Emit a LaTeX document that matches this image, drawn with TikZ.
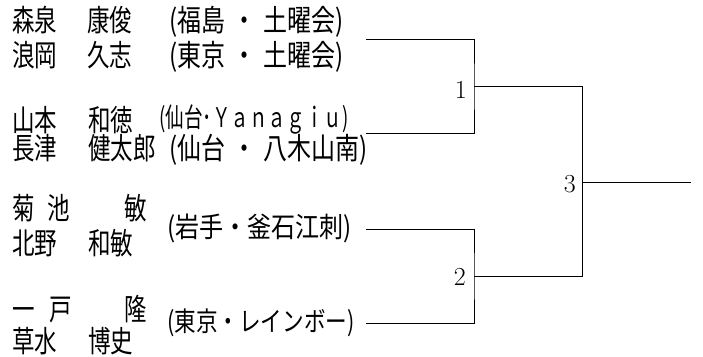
\documentclass[tikz,border=0pt]{standalone}
\usepackage{fontspec}
\newfontfamily\jpname[FakeStretch=0.75]{Noto Sans CJK JP}
\newfontfamily\jpaff[FakeStretch=0.8]{Noto Sans CJK JP}
\newfontfamily\jpnarrow[FakeStretch=0.69]{Noto Sans CJK JP}
\newfontfamily\jpwide[FakeStretch=0.86]{Noto Sans CJK JP}
\newfontfamily\jpkata[FakeStretch=0.8]{Noto Sans CJK JP}
\begin{document}
\begin{tikzpicture}[x=1pt,y=-1pt,
  txtL/.style={inner sep=0pt, anchor=west, text height=26.4pt, text depth=3.6pt},
  txtM/.style={inner sep=0pt, anchor=west, text height=24.6pt, text depth=3.4pt},
  txtS/.style={inner sep=0pt, anchor=west, text height=23.8pt, text depth=3.2pt},
  pname/.style={txtL, font=\fontsize{30}{30}\jpname},
  aff/.style={txtL, font=\fontsize{30}{30}\jpaff},
  affnarrow/.style={txtS, font=\fontsize{27}{27}\jpnarrow},
  affwide/.style={txtM, font=\fontsize{28}{28}\jpwide},
  affkata/.style={txtS, font=\fontsize{27}{27}\jpkata},
  num/.style={inner sep=0pt, anchor=base east, font=\fontsize{26}{26}\selectfont},
  bracket/.style={line width=0.9pt}
]
\useasboundingbox (0,0) rectangle (703,356);
% row 1
\node[pname] (s1) at (12,20) {森泉};
\node[pname] (g1) at (87,20) {康俊};
\node[aff]  (a1) at (169,20) {(福島\hspace{7pt}・\hspace{7pt}土曜会)};
% row 2
\node[pname] (s2) at (12,55) {浪岡};
\node[pname] (g2) at (87,55) {久志};
\node[aff]  (a2) at (169,55) {(東京\hspace{7pt}・\hspace{7pt}土曜会)};
% row 3
\node[pname] (s3) at (12,120) {山本};
\node[pname] (g3) at (88,120) {和徳};
\node[affnarrow] (a3) at (159,117) {(仙台･Ｙａｎａｇｉｕ)};
% row 4
\node[pname] (s4) at (12,148) {長津};
\node[pname] (g4) at (88,148) {健太郎};
\node[aff]  (a4) at (169,148) {(仙台\hspace{7pt}・\hspace{7pt}八木山南)};
% row 5
\node[pname] (s5a) at (12,208) {菊};
\node[pname] (s5b) at (47,208) {池};
\node[pname] (g5) at (124,208) {敏};
% row 6
\node[pname] (s6) at (12,243) {北野};
\node[pname] (g6) at (88,243) {和敏};
\node[affwide] (a6) at (167,227) {(岩手・釜石江刺)};
% row 7
\node[pname] (s7a) at (12,309) {一};
\node[pname] (s7b) at (49,309) {戸};
\node[pname] (g7) at (124,309) {隆};
% row 8
\node[pname] (s8) at (12,341) {草水};
\node[pname] (g8) at (88,341) {博史};
\node[affkata] (a8) at (167,321) {(東京・レインボー)};
% bracket
\coordinate (p1) at (366,39.3);
\coordinate (p2) at (366,133);
\coordinate (p3) at (366,229);
\coordinate (p4) at (366,323);
\coordinate (m1) at (474,86.7);
\coordinate (m2) at (474,276);
\coordinate (m3) at (582,182);
\coordinate (w) at (691,182);
\draw[bracket] (p1) -| (m1) |- (p2);
\draw[bracket] (p3) -| (m2) |- (p4);
\draw[bracket] (m1) -| (m3) |- (m2);
\draw[bracket] (m3) -- (w);
\node[num] (n1) at (467,98) {1};
\node[num] (n2) at (466,285) {2};
\node[num] (n3) at (576,192) {3};
\end{tikzpicture}
\end{document}
